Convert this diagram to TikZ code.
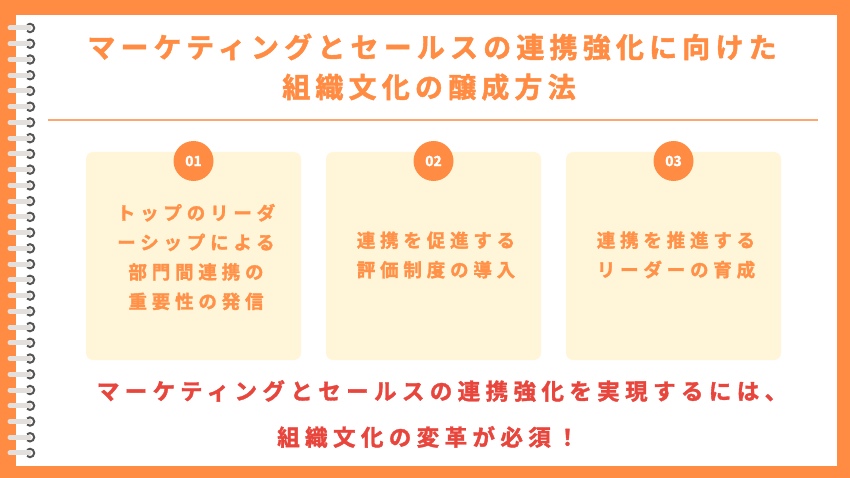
\documentclass[tikz,border=0pt]{standalone}
\usepackage{fontspec}
\setmainfont{Noto Sans CJK JP}
\newfontfamily\jpb{Noto Sans CJK JP Bold}[FakeBold=1.6]
\newfontfamily\jpn{Noto Sans CJK JP Bold}
\definecolor{bgorange}{HTML}{FF8C42}
\definecolor{ttlorange}{HTML}{FF8C42}
\definecolor{txtorange}{HTML}{FF9148}
\definecolor{lineorange}{HTML}{FFA66E}
\definecolor{cardfill}{HTML}{FFF6D9}
\definecolor{redtxt}{HTML}{E8453C}
\definecolor{ringbar}{HTML}{E2DFDC}
\definecolor{ringdark}{HTML}{555555}
\tikzset{
  card/.style={fill=cardfill, rounded corners=7pt, draw=none},
  badge/.style={circle, fill=bgorange, minimum size=40pt, inner sep=0pt, text=white, font=\jpb\fontsize{14}{14}\selectfont},
  ttl/.style={text=ttlorange, inner sep=0pt, font=\jpb\fontsize{28}{30}\selectfont\addfontfeature{LetterSpace=18.5}},
  ctxt/.style={text=txtorange, inner sep=0pt, align=center, font=\jpb\fontsize{18.5}{29.5}\selectfont\addfontfeature{LetterSpace=26}},
  btxt/.style={text=redtxt, inner sep=0pt, font=\jpb\fontsize{22.5}{26}\selectfont\addfontfeature{LetterSpace=24}},
}
\begin{document}
\begin{tikzpicture}[x=1pt,y=-1pt]
\useasboundingbox (0,0) rectangle (850,478);
\fill[bgorange] (0,0) rectangle (850,478);
\fill[white] (16,15) rectangle (837,466);
% rings
\foreach \k in {0,...,27}{
  \pgfmathsetmacro{\yy}{28+\k*15.74}
  \draw[ringdark, line width=2pt] ([shift={(135:4.2)}]30,\yy) arc[start angle=135, end angle=-135, radius=4.2];
  \draw[ringbar, line width=5pt, line cap=round] (10,\yy) -- (29,\yy);
}
% title
\node[ttl, anchor=center] (t1) at (432,47) {マーケティングとセールスの連携強化に向けた};
\node[ttl, anchor=center] (t2) at (429,87) {組織文化の醸成方法};
\coordinate (la) at (48,120);
\coordinate (lb) at (818,120);
\draw[lineorange, line width=1.3pt] (la) -- (lb);
% cards
\fill[card] (86,152) rectangle (301,360);
\fill[card] (326,152) rectangle (541,360);
\fill[card] (566,152) rectangle (781,360);
\node[badge] (b1) at (193.5,161) {01};
\node[badge] (b2) at (433.5,161) {02};
\node[badge] (b3) at (673.5,161) {03};
\node[ctxt] (c1) at (196,257) {トップのリーダ\\ーシップによる\\部門間連携の\\重要性の発信};
\node[ctxt] (c2) at (436,255) {連携を促進する\\評価制度の導入};
\node[ctxt] (c3) at (676,255) {連携を推進する\\リーダーの育成};
% bottom
\node[btxt, anchor=center] (m1) at (442,391) {マーケティングとセールスの連携強化を実現するには、};
\node[btxt, anchor=center] (m2) at (428,437) {組織文化の変革が必須！};
\end{tikzpicture}
\end{document}
